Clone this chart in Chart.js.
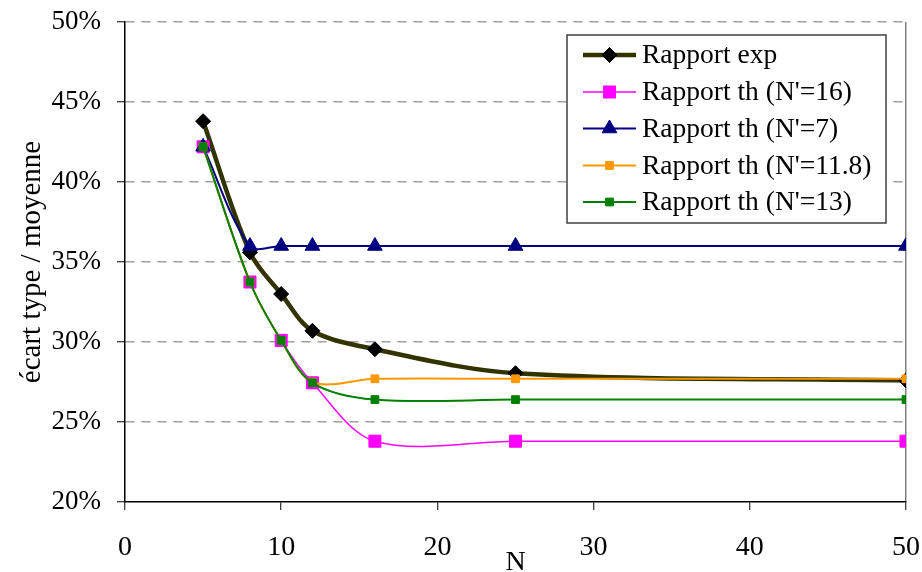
<!DOCTYPE html>
<html>
<head>
<meta charset="utf-8">
<script src="https://cdn.jsdelivr.net/npm/chart.js@4/dist/chart.umd.min.js"></script>
<style>
html,body{margin:0;padding:0;background:#fff;}
#wrap{width:922px;height:572px;position:relative;}
</style>
</head>
<body>
<div id="wrap"><canvas id="c" width="922" height="572"></canvas></div>
<script>
// ---- data ----
const nValues = [5, 8, 10, 12, 16, 25, 50];
const rapportExp = [43.8, 35.6, 33.0, 30.7, 29.55, 28.05, 27.6];
const rapportTh16 = [42.2, 33.75, 30.1, 27.45, 23.8, 23.8, 23.8];
const rapportTh7 = [42.2, 36.0, 36.0, 36.0, 36.0, 36.0, 36.0];
const rapportTh118 = [42.2, 33.75, 30.1, 27.5, 27.7, 27.7, 27.7];
const rapportTh13 = [42.2, 33.75, 30.1, 27.45, 26.4, 26.4, 26.4];
const seriesLabels = ["Rapport exp", "Rapport th (N'=16)", "Rapport th (N'=7)", "Rapport th (N'=11.8)", "Rapport th (N'=13)"];
const yTickValues = [20, 25, 30, 35, 40, 45, 50];
const xTickValues = [0, 10, 20, 30, 40, 50];
const yTitle = "écart type / moyenne";
const xTitle = "N";

const FONT = "'Liberation Serif', 'Times New Roman', serif";
const toXY = arr => arr.map((v, i) => ({x: nValues[i], y: v}));

const styles = [
  {color: '#333300', pointColor: '#000000', width: 4.5, pointStyle: 'rectRot', radius: 7.5, order: 5},
  {color: '#FF00FF', pointColor: '#FF00FF', width: 1.5, pointStyle: 'rect', radius: 8.5, order: 4},
  {color: '#000080', pointColor: '#000080', width: 2, pointStyle: 'triangle', radius: 8.5, order: 3},
  {color: '#FF9900', pointColor: '#FF9900', width: 2, pointStyle: 'rect', radius: 5.5, order: 2},
  {color: '#008000', pointColor: '#008000', width: 2, pointStyle: 'rect', radius: 5.5, order: 1}
];
const seriesData = [rapportExp, rapportTh16, rapportTh7, rapportTh118, rapportTh13];

const datasets = seriesData.map((d, i) => ({
  label: seriesLabels[i],
  data: toXY(d),
  borderColor: styles[i].color,
  borderWidth: styles[i].width,
  backgroundColor: styles[i].pointColor,
  pointBackgroundColor: styles[i].pointColor,
  pointBorderColor: styles[i].pointColor,
  pointBorderWidth: 1,
  pointStyle: styles[i].pointStyle,
  pointRadius: styles[i].radius,
  pointHoverRadius: styles[i].radius,
  tension: 0.33,
  fill: false,
  order: styles[i].order
}));

function drawMarker(ctx, style, x, y, r, color) {
  ctx.save();
  ctx.fillStyle = color;
  ctx.strokeStyle = color;
  ctx.lineWidth = 1;
  ctx.beginPath();
  if (style === 'rectRot') {
    ctx.moveTo(x, y - r); ctx.lineTo(x + r, y); ctx.lineTo(x, y + r); ctx.lineTo(x - r, y); ctx.closePath();
  } else if (style === 'rect') {
    const s = Math.SQRT1_2 * r;
    ctx.rect(x - s, y - s, 2 * s, 2 * s);
  } else if (style === 'triangle') {
    const w = r * Math.sqrt(3) / 2;
    ctx.moveTo(x, y - r); ctx.lineTo(x + w, y + r / 2); ctx.lineTo(x - w, y + r / 2); ctx.closePath();
  }
  ctx.fill(); ctx.stroke();
  ctx.restore();
}

const legendBox = {
  id: 'legendBox',
  afterDraw(chart) {
    const ctx = chart.ctx;
    const left = 567, top = 35, right = 886, bottom = 223;
    ctx.save();
    ctx.fillStyle = '#ffffff';
    ctx.fillRect(left, top, right - left, bottom - top);
    ctx.strokeStyle = '#404040';
    ctx.lineWidth = 1.5;
    ctx.strokeRect(left, top, right - left, bottom - top);
    ctx.font = "27.5px " + FONT;
    ctx.textBaseline = 'middle';
    ctx.textAlign = 'left';
    const rowY = [55, 92, 128.5, 165.5, 202];
    seriesLabels.forEach((lab, i) => {
      const y = rowY[i];
      ctx.strokeStyle = styles[i].color;
      ctx.lineWidth = styles[i].width;
      ctx.beginPath(); ctx.moveTo(583, y); ctx.lineTo(636, y); ctx.stroke();
      drawMarker(ctx, styles[i].pointStyle, 609.5, y, styles[i].radius, styles[i].pointColor);
      ctx.fillStyle = '#000';
      ctx.fillText(lab, 642, y + 1);
    });
    ctx.restore();
  }
};

new Chart(document.getElementById('c'), {
  type: 'line',
  data: {datasets},
  plugins: [legendBox],
  options: {
    responsive: false,
    devicePixelRatio: 1,
    animation: false,
    events: [],
    layout: {padding: {top: 22, right: 16, left: 0, bottom: 0}},
    plugins: {legend: {display: false}, tooltip: {enabled: false}},
    scales: {
      x: {
        type: 'linear',
        min: 0, max: 50,
        afterFit(scale) { scale.height = 70; scale.paddingLeft = 0; scale.paddingRight = 0; },
        afterBuildTicks(scale) { scale.ticks = xTickValues.map(v => ({value: v})); },
        ticks: {font: {family: FONT, size: 28}, color: '#000', padding: 21, maxRotation: 0},
        grid: {
          color: ctx => (ctx.tick && ctx.tick.value === 50) ? '#808080' : 'rgba(0,0,0,0)',
          lineWidth: 1.5,
          tickColor: '#000',
          tickLength: 8,
          tickWidth: 1
        },
        border: {display: true, color: '#000', width: 1.5},
        title: {display: true, text: xTitle, font: {family: FONT, size: 28, lineHeight: 1}, color: '#000', padding: {top: 0, bottom: -5}}
      },
      y: {
        type: 'linear',
        min: 20, max: 50,
        afterFit(scale) { scale.width = 125; scale.paddingTop = 0; scale.paddingBottom = 0; },
        afterBuildTicks(scale) { scale.ticks = yTickValues.map(v => ({value: v})); },
        ticks: {font: {family: FONT, size: 27}, color: '#000', padding: 16, callback: v => v + '%'},
        grid: {
          color: ctx => (ctx.tick && ctx.tick.value === 20) ? 'rgba(0,0,0,0)' : '#a0a0a0',
          lineWidth: 1.5,
          tickColor: '#000',
          tickLength: 8,
          tickWidth: 1,
          tickBorderDash: []
        },
        border: {display: true, color: '#000', width: 1.5, dash: [9, 7]},
        title: {display: true, text: yTitle, font: {family: FONT, size: 29, lineHeight: 1}, color: '#000', padding: {top: 18, bottom: 0}}
      }
    }
  }
});
</script>
</body>
</html>
